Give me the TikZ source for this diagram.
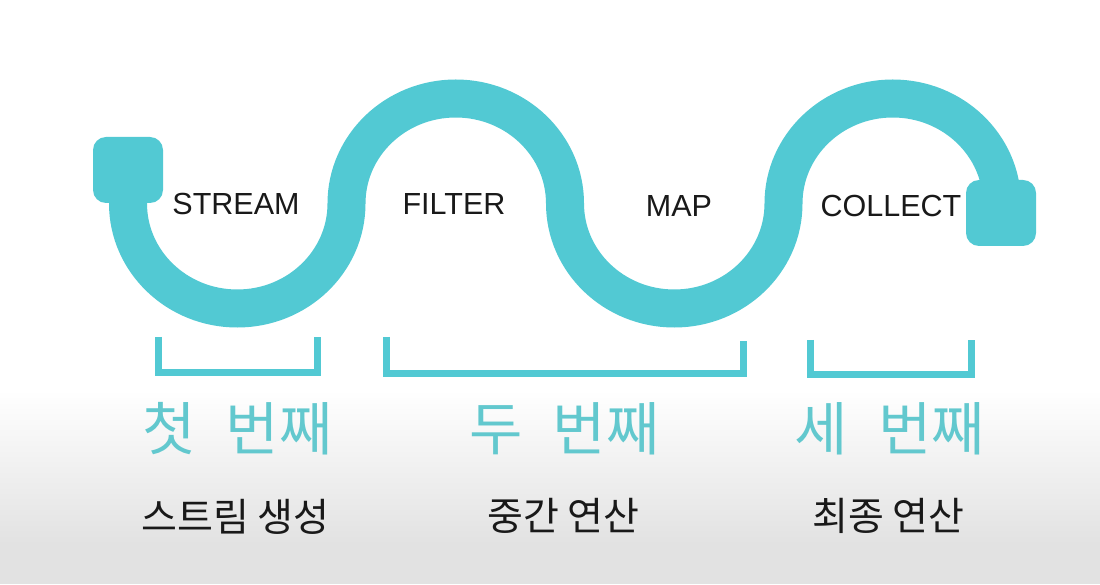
\documentclass[tikz,border=0pt]{standalone}
\usepackage{fontspec}
\setmainfont{Liberation Sans}
\newfontfamily\kr{Noto Sans CJK KR}
\definecolor{teal1}{RGB}{82,201,211}
\definecolor{teal2}{RGB}{98,200,206}
\definecolor{bggray}{RGB}{226,226,226}
\begin{document}
\begin{tikzpicture}[x=1pt,y=1pt,
  wave/.style={draw=teal1,line width=38pt},
  capbox/.style={fill=teal1,rounded corners=13pt,minimum width=70pt,minimum height=66pt,inner sep=0pt},
  bracket/.style={draw=teal1,line width=7pt,line join=miter},
  oplabel/.style={font=\fontsize{30.5}{32}\selectfont,text=black!90,inner sep=0pt},
  stage/.style={font=\kr\fontsize{58}{60}\selectfont,text=teal2,inner sep=0pt},
  desc/.style={font=\kr\fontsize{39}{41}\selectfont,text=black!90,inner sep=0pt}]
\useasboundingbox (0,0) rectangle (1100,584);
\fill[white] (0,0) rectangle (1100,584);
\shade[top color=white,bottom color=bggray] (0,40) rectangle (1100,194);
\fill[bggray] (0,0) rectangle (1100,40.5);
% caps
\node[capbox] (capL) at (128,414) {};
\node[capbox] (capR) at (1001,371) {};
% wave
\draw[wave] (capL.center) -- (128,380.5)
  arc[start angle=180,end angle=360,x radius=109.25,y radius=105]
  arc[start angle=180,end angle=0,x radius=109.25,y radius=105]
  arc[start angle=180,end angle=360,x radius=109.25,y radius=105]
  arc[start angle=180,end angle=0,x radius=109.25,y radius=105]
  -- (capR.center);
% operation labels
\node[oplabel] (stream) at (236,380) {STREAM};
\node[oplabel] (filter) at (454,380) {FILTER};
\node[oplabel] (map) at (679,378) {MAP};
\node[oplabel] (collect) at (891,378) {COLLECT};
% brackets
\draw[bracket] (158,247) -- (158,211) -- (317,211) -- (317,247);
\draw[bracket] (386,247) -- (386,210.5) -- (743,210.5) -- (743,243);
\draw[bracket] (810,244) -- (810,209) -- (971,209) -- (971,244);
% stage labels
\node[stage] (s1) at (237.5,155.5) {첫\hspace{30pt}번째};
\node[stage] (s2) at (564.5,155.5) {두\hspace{30pt}번째};
\node[stage] (s3) at (890,155.5) {세\hspace{30pt}번째};
% descriptions
\node[desc] (d1) at (235.5,67.5) {스트림 생성};
\node[desc] (d2) at (563.5,68) {중간 연산};
\node[desc] (d3) at (888.5,68.5) {최종 연산};
\end{tikzpicture}
\end{document}
